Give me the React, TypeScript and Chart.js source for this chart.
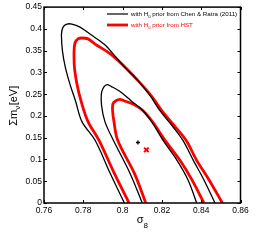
import React, { useEffect, useRef } from "react";
import { Chart, registerables } from "chart.js";

Chart.register(...registerables);

// ---- axis ticks ----
const xTicks = [0.76, 0.78, 0.8, 0.82, 0.84, 0.86];
const yTicks = [0, 0.05, 0.1, 0.15, 0.2, 0.25, 0.3, 0.35, 0.4, 0.45];

// ---- contours (sigma8, sum m_nu) ----
const blackOuterX = [0.8009, 0.7936, 0.786, 0.7793, 0.776, 0.7732, 0.7709, 0.7694, 0.7689, 0.7697, 0.7717, 0.7742, 0.7783, 0.7834, 0.7905, 0.7961, 0.8012, 0.8078, 0.8139, 0.819, 0.8251, 0.8307, 0.836, 0.8414, 0.847];
const blackOuterY = [0, 0.069, 0.144, 0.187, 0.235, 0.273, 0.311, 0.349, 0.388, 0.404, 0.411, 0.411, 0.404, 0.388, 0.365, 0.338, 0.311, 0.281, 0.247, 0.212, 0.178, 0.144, 0.098, 0.053, 0];

const redOuterX = [0.8033, 0.7958, 0.788, 0.7824, 0.7788, 0.7768, 0.7755, 0.7753, 0.7758, 0.7773, 0.7793, 0.7824, 0.786, 0.7936, 0.8022, 0.8089, 0.815, 0.8199, 0.8262, 0.8323, 0.8377, 0.844, 0.8508];
const redOuterY = [0, 0.068, 0.144, 0.187, 0.235, 0.273, 0.311, 0.349, 0.368, 0.377, 0.379, 0.377, 0.365, 0.343, 0.308, 0.276, 0.244, 0.212, 0.178, 0.144, 0.098, 0.053, 0];

const blackInnerX = [0.81, 0.8038, 0.7953, 0.791, 0.7893, 0.7893, 0.7905, 0.7921, 0.7941, 0.7987, 0.8043, 0.8104, 0.815, 0.8206, 0.8277, 0.8333, 0.8377];
const blackInnerY = [0, 0.068, 0.144, 0.187, 0.224, 0.254, 0.267, 0.272, 0.268, 0.256, 0.235, 0.212, 0.185, 0.144, 0.098, 0.053, 0];

const redInnerX = [0.8118, 0.806, 0.7975, 0.7956, 0.7949, 0.7951, 0.7966, 0.7987, 0.8007, 0.8058, 0.8104, 0.8155, 0.8216, 0.8292, 0.8353, 0.8414];
const redInnerY = [0, 0.068, 0.144, 0.187, 0.212, 0.228, 0.235, 0.238, 0.235, 0.226, 0.212, 0.185, 0.144, 0.098, 0.053, 0];

// best-fit points
const blackBest = [0.8078, 0.139];
const redBest = [0.8121, 0.122];

const legendBlack = ["with H", "0", " prior from Chen & Ratra (2011)"];
const legendRed = ["with H", "0", " prior from HST"];

const FONT = '"Liberation Sans", Arial, Helvetica, sans-serif';
const RED = "#ff0000";

const pts = (xs: number[], ys: number[]) => xs.map((x, i) => ({ x, y: ys[i] }));
const fmt = (v: number) => String(Number(v.toFixed(2)));

const decorPlugin = {
  id: "decor",
  afterDraw(chart: any) {
    const { ctx, chartArea: a, scales } = chart;
    ctx.save();
    // inward ticks on all four sides
    ctx.strokeStyle = "#000";
    ctx.lineWidth = 1;
    const tl = 3;
    ctx.beginPath();
    xTicks.forEach((v) => {
      const px = Math.round(scales.x.getPixelForValue(v)) + 0.5;
      ctx.moveTo(px, a.bottom);
      ctx.lineTo(px, a.bottom - tl);
      ctx.moveTo(px, a.top);
      ctx.lineTo(px, a.top + tl);
    });
    yTicks.forEach((v) => {
      const py = Math.round(scales.y.getPixelForValue(v)) + 0.5;
      ctx.moveTo(a.left, py);
      ctx.lineTo(a.left + tl, py);
      ctx.moveTo(a.right, py);
      ctx.lineTo(a.right - tl, py);
    });
    ctx.stroke();
    // box
    ctx.lineWidth = 1.5;
    ctx.strokeRect(a.left, a.top, a.right - a.left, a.bottom - a.top);

    // legend
    const drawSub = (parts: string[], x: number, y: number, size: number, color: string) => {
      ctx.fillStyle = color;
      ctx.textBaseline = "alphabetic";
      ctx.textAlign = "left";
      ctx.font = `${size}px ${FONT}`;
      ctx.fillText(parts[0], x, y);
      let cx = x + ctx.measureText(parts[0]).width;
      ctx.font = `${size * 0.7}px ${FONT}`;
      ctx.fillText(parts[1], cx, y + size * 0.3);
      cx += ctx.measureText(parts[1]).width;
      ctx.font = `${size}px ${FONT}`;
      ctx.fillText(parts[2], cx, y);
    };
    ctx.lineWidth = 1.2;
    ctx.strokeStyle = "#000";
    ctx.beginPath();
    ctx.moveTo(107, 14);
    ctx.lineTo(128, 14);
    ctx.stroke();
    drawSub(legendBlack, 131, 16, 6.2, "#000");
    ctx.lineWidth = 2.8;
    ctx.strokeStyle = RED;
    ctx.beginPath();
    ctx.moveTo(107, 25);
    ctx.lineTo(128, 25);
    ctx.stroke();
    drawSub(legendRed, 131, 27, 6.2, RED);

    // x title: sigma_8
    ctx.fillStyle = "#000";
    ctx.font = `11px ${FONT}`;
    const sw = ctx.measureText("\u03c3").width;
    ctx.font = `8px ${FONT}`;
    const ew = ctx.measureText("8").width;
    const xc = (a.left + a.right) / 2;
    let xs = xc - (sw + ew) / 2;
    ctx.font = `11px ${FONT}`;
    ctx.fillText("\u03c3", xs, 223);
    ctx.font = `8px ${FONT}`;
    ctx.fillText("8", xs + sw, 227.5);

    // y title: Sigma m_nu [eV]
    ctx.save();
    ctx.translate(16.5, 106);
    ctx.rotate(-Math.PI / 2);
    ctx.font = `11px ${FONT}`;
    const w1 = ctx.measureText("\u03a3m").width;
    const w3 = ctx.measureText("[eV]").width;
    ctx.font = `8px ${FONT}`;
    const w2 = ctx.measureText("\u03bd").width;
    let tx = -(w1 + w2 + w3) / 2;
    ctx.font = `11px ${FONT}`;
    ctx.fillText("\u03a3m", tx, 0);
    ctx.font = `8px ${FONT}`;
    ctx.fillText("\u03bd", tx + w1, 3);
    ctx.font = `11px ${FONT}`;
    ctx.fillText("[eV]", tx + w1 + w2 + 0.5, 0);
    ctx.restore();

    ctx.restore();
  },
};

export default function App() {
  const ref = useRef<HTMLCanvasElement | null>(null);
  useEffect(() => {
    if (!ref.current) return;
    const line = (xs: number[], ys: number[], color: string, width: number, order: number) => ({
      type: "scatter" as const,
      data: pts(xs, ys),
      showLine: true,
      borderColor: color,
      borderWidth: width,
      pointRadius: 0,
      tension: 0.35,
      fill: false,
      order,
    });
    const chart = new Chart(ref.current, {
      type: "scatter",
      data: {
        datasets: [
          {
            type: "scatter",
            data: [{ x: blackBest[0], y: blackBest[1] }],
            pointStyle: "cross",
            pointRadius: 2,
            borderColor: "#000",
            backgroundColor: "#000",
            borderWidth: 1.3,
            order: 0,
          } as any,
          {
            type: "scatter",
            data: [{ x: redBest[0], y: redBest[1] }],
            pointStyle: "crossRot",
            pointRadius: 3.2,
            borderColor: RED,
            backgroundColor: RED,
            borderWidth: 2,
            order: 0,
          } as any,
          line(blackOuterX, blackOuterY, "#000", 1.3, 1),
          line(blackInnerX, blackInnerY, "#000", 1.3, 1),
          line(redOuterX, redOuterY, RED, 2.8, 2),
          line(redInnerX, redInnerY, RED, 2.8, 2),
        ],
      },
      options: {
        animation: false,
        responsive: false,
        maintainAspectRatio: false,
        layout: { padding: { top: 6, right: 25.5, left: 0, bottom: 0 } },
        plugins: { legend: { display: false }, tooltip: { enabled: false } },
        scales: {
          x: {
            type: "linear",
            min: 0.76,
            max: 0.86,
            afterBuildTicks: (s: any) => {
              s.ticks = xTicks.map((v) => ({ value: v }));
            },
            afterFit: (s: any) => {
              s.height = 39;
            },
            ticks: {
              callback: (v: any) => fmt(Number(v)),
              font: { family: FONT, size: 8.5 },
              color: "#000",
              padding: 3,
              maxRotation: 0,
              autoSkip: false,
            },
            grid: { display: false, drawTicks: false },
            border: { display: false },
          },
          y: {
            type: "linear",
            min: 0,
            max: 0.45,
            afterBuildTicks: (s: any) => {
              s.ticks = yTicks.map((v) => ({ value: v }));
            },
            afterFit: (s: any) => {
              s.width = 44;
            },
            ticks: {
              callback: (v: any) => fmt(Number(v)),
              font: { family: FONT, size: 8.5 },
              color: "#000",
              padding: 2,
              autoSkip: false,
            },
            grid: { display: false, drawTicks: false },
            border: { display: false },
          },
        },
      },
      plugins: [decorPlugin],
    });
    return () => chart.destroy();
  }, []);
  return (
    <div style={{ position: "fixed", left: 0, top: 0, width: 266, height: 242, background: "#fff" }}>
      <canvas ref={ref} width={266} height={242} style={{ width: 266, height: 242, display: "block" }} />
    </div>
  );
}
